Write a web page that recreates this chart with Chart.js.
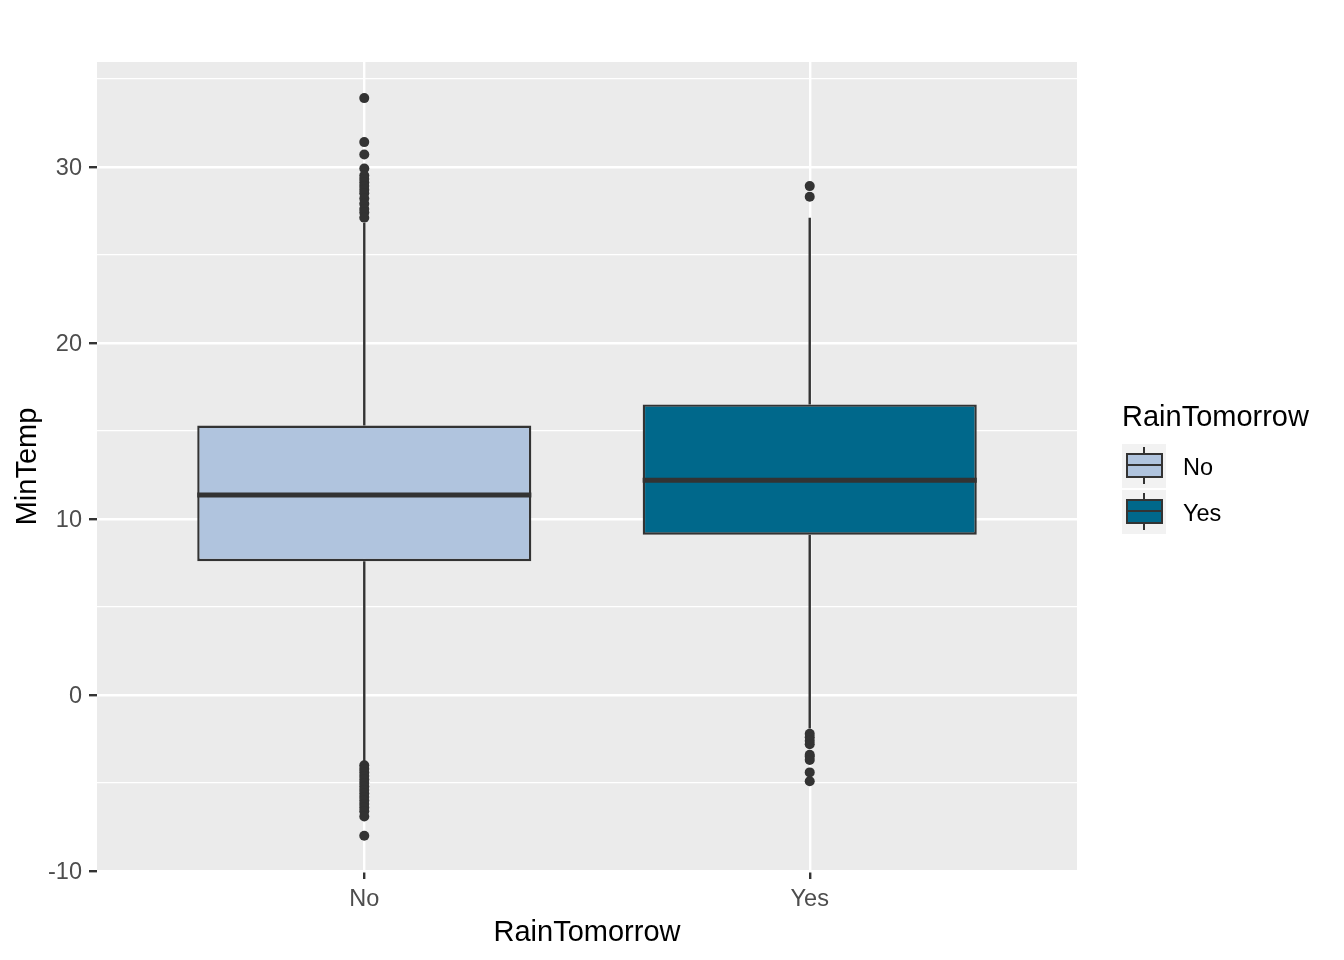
<!DOCTYPE html>
<html>
<head>
<meta charset="utf-8">
<title>MinTemp by RainTomorrow</title>
<script src="https://cdn.jsdelivr.net/npm/chart.js@4.4.1/dist/chart.umd.min.js"></script>
<style>
  html, body { margin: 0; padding: 0; background: #fff; }
  #wrap { position: relative; width: 1344px; height: 960px; font-family: "Liberation Sans", Arial, sans-serif; }
  #legend { position: absolute; left: 1122px; top: 399px; }
  .legend-title { font-size: 29px; line-height: 34px; color: #000; margin-bottom: 11px; white-space: nowrap; }
  .legend-row { display: flex; align-items: center; margin-bottom: 2px; height: 44px; }
  .legend-key { position: relative; width: 44px; height: 44px; background: #F2F2F2; }
  .legend-key .whisker { position: absolute; left: 21px; top: 3px; width: 2.4px; height: 37px; background: #333; }
  .legend-key .box { position: absolute; left: 4px; top: 8.5px; width: 37px; height: 25px; box-sizing: border-box; border: 2.4px solid #333; }
  .legend-key .median { position: absolute; left: 4px; top: 19.8px; width: 37px; height: 2.4px; background: #333; }
  .legend-label { position: relative; top: 1px; margin-left: 17px; font-size: 23.5px; line-height: 44px; color: #000; }
</style>
</head>
<body>
<div id="wrap">
  <canvas id="boxChart" width="1344" height="960"></canvas>
  <div id="legend"></div>
</div>
<script>
// ═══════════════════════════════════════
//  DATA
// ═══════════════════════════════════════
const CATEGORIES = ["No", "Yes"];
const Q1 = [7.6, 9.1];
const MEDIAN = [11.35, 12.2];
const Q3 = [15.3, 16.5];
const WHISKER_LO = [-3.9, -1.9];
const WHISKER_HI = [26.8, 27.1];

const OUTLIERS_NO = [
  33.9, 31.4, 30.7, 29.9, 29.5, 29.3, 29.1, 28.9, 28.7, 28.5, 28.2, 27.9, 27.6, 27.4, 27.1,
  -4.0, -4.2, -4.4, -4.6, -4.8, -5.0, -5.2, -5.4, -5.6, -5.8, -6.0, -6.2, -6.4, -6.6, -6.9, -8.0,
];
const OUTLIERS_YES = [28.9, 28.3, -2.2, -2.4, -2.6, -2.8, -3.4, -3.5, -3.7, -4.4, -4.9];

const Y_MAJOR = [-10, 0, 10, 20, 30];
const Y_MINOR = [-5, 5, 15, 25, 35];

const FILL_COLORS = ["#B0C4DE", "#00688B"];
const INK = "#333333";
const BOX_WIDTH = 0.75; // in category units

// ═══════════════════════════════════════
//  BUILD DATASETS
// ═══════════════════════════════════════
const outliers = [OUTLIERS_NO, OUTLIERS_YES];
const boxData = CATEGORIES.map((c, i) => ({ x: i + 1, y: [Q1[i], Q3[i]] }));

const whiskerData = [];
const medianData = [];
CATEGORIES.forEach((c, i) => {
  const x = i + 1;
  whiskerData.push(
    { x, y: Q3[i] }, { x, y: WHISKER_HI[i] }, { x, y: null },
    { x, y: Q1[i] }, { x, y: WHISKER_LO[i] }, { x, y: null }
  );
  medianData.push(
    { x: x - BOX_WIDTH / 2, y: MEDIAN[i] }, { x: x + BOX_WIDTH / 2, y: MEDIAN[i] }, { x, y: null }
  );
});

const outlierData = outliers.flatMap((list, i) => list.map((v) => ({ x: i + 1, y: v })));

// ═══════════════════════════════════════
//  PLUGINS
// ═══════════════════════════════════════
const panelBackground = {
  id: "panelBackground",
  beforeDraw(chart) {
    const { ctx, chartArea: a } = chart;
    ctx.save();
    ctx.fillStyle = "#EBEBEB";
    ctx.fillRect(a.left, a.top, a.right - a.left, a.bottom - a.top);
    ctx.restore();
  },
};

const isMajor = (ctx) => ctx.tick && Y_MAJOR.includes(ctx.tick.value);

// ═══════════════════════════════════════
//  CHART
// ═══════════════════════════════════════
Chart.defaults.font.family = "'Liberation Sans', Arial, sans-serif";
Chart.defaults.animation = false;

new Chart(document.getElementById("boxChart"), {
  type: "bar",
  data: {
    datasets: [
      {
        type: "bar",
        data: boxData,
        backgroundColor: FILL_COLORS,
        borderColor: INK,
        borderWidth: 2.4,
        borderSkipped: false,
        barPercentage: BOX_WIDTH,
        categoryPercentage: 1,
        order: 2,
      },
      {
        type: "line",
        data: whiskerData,
        borderColor: INK,
        borderWidth: 2.4,
        pointRadius: 0,
        spanGaps: false,
        fill: false,
        order: 3,
      },
      {
        type: "line",
        data: medianData,
        borderColor: INK,
        borderWidth: 5,
        borderCapStyle: "butt",
        pointRadius: 0,
        spanGaps: false,
        fill: false,
        order: 1,
      },
      {
        type: "scatter",
        data: outlierData,
        pointRadius: 5,
        pointHoverRadius: 5,
        backgroundColor: INK,
        borderWidth: 0,
        order: 0,
      },
    ],
  },
  options: {
    responsive: false,
    devicePixelRatio: 1,
    events: [],
    layout: { padding: { left: 0, top: 62, right: 267, bottom: 0 } },
    plugins: { legend: { display: false }, tooltip: { enabled: false } },
    scales: {
      x: {
        type: "linear",
        min: 0.4,
        max: 2.6,
        offset: false,
        afterBuildTicks: (s) => { s.ticks = CATEGORIES.map((c, i) => ({ value: i + 1 })); },
        afterFit: (s) => { s.height = 89; },
        ticks: {
          callback: (v, i) => CATEGORIES[i],
          color: "#4D4D4D",
          font: { size: 23.5 },
          padding: 6,
          autoSkip: false,
          maxRotation: 0,
        },
        grid: { color: "#FFFFFF", lineWidth: 2.4, tickColor: INK, tickLength: 8, tickWidth: 2.4, offset: false },
        border: { display: false },
        title: {
          display: true,
          text: "RainTomorrow",
          color: "#000000",
          font: { size: 29 },
          padding: { top: 0, bottom: 10 },
        },
      },
      y: {
        type: "linear",
        min: -10,
        max: 35.95,
        afterBuildTicks: (s) => {
          s.ticks = [...Y_MAJOR, ...Y_MINOR].sort((a, b) => a - b).map((v) => ({ value: v }));
        },
        afterFit: (s) => { s.width = 97; },
        ticks: {
          callback: (v) => (Y_MAJOR.includes(v) ? String(v) : ""),
          color: "#4D4D4D",
          font: { size: 23.5 },
          padding: 7,
          labelOffset: 2,
          autoSkip: false,
        },
        grid: {
          color: "#FFFFFF",
          lineWidth: (ctx) => (isMajor(ctx) ? 2.4 : 1.2),
          tickColor: (ctx) => (isMajor(ctx) ? INK : "rgba(0,0,0,0)"),
          tickLength: 8,
          tickWidth: 2.4,
        },
        border: { display: false },
        title: {
          display: true,
          text: "MinTemp",
          color: "#000000",
          font: { size: 29 },
          padding: { top: 11, bottom: 0 },
        },
      },
    },
  },
  plugins: [panelBackground],
});

// ═══════════════════════════════════════
//  LEGEND (HTML, ggplot-style keys)
// ═══════════════════════════════════════
const legendEl = document.getElementById("legend");
legendEl.innerHTML =
  `<div class="legend-title">RainTomorrow</div>` +
  CATEGORIES.map(
    (c, i) => `
    <div class="legend-row">
      <div class="legend-key">
        <div class="whisker"></div>
        <div class="box" style="background:${FILL_COLORS[i]}"></div>
        <div class="median"></div>
      </div>
      <div class="legend-label">${c}</div>
    </div>`
  ).join("");
</script>
</body>
</html>
